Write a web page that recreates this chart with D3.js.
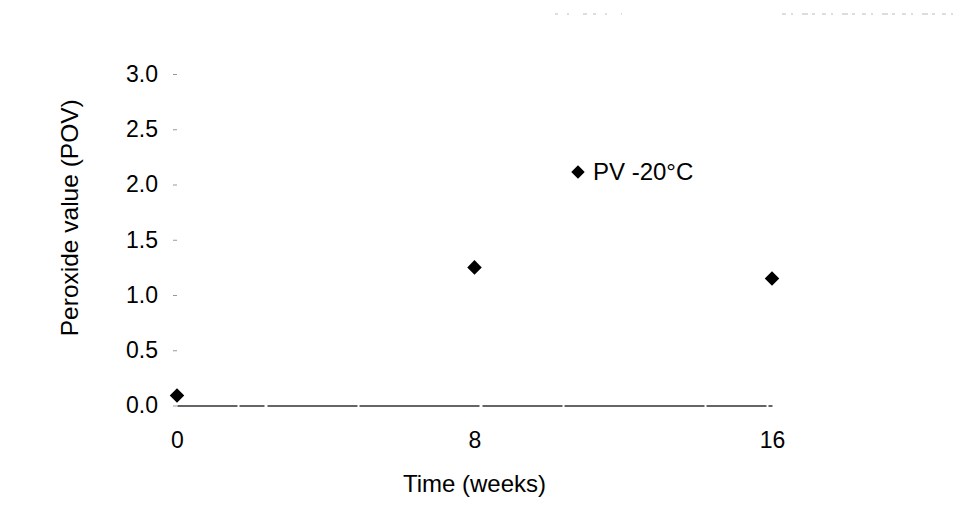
<!DOCTYPE html>
<html>
<head>
<meta charset="utf-8">
<script src="https://cdn.jsdelivr.net/npm/d3@7"></script>
<style>
  html, body { margin: 0; padding: 0; background: #fff; }
  svg { display: block; }
  text { font-family: "Liberation Sans", Arial, sans-serif; fill: #000; }
</style>
</head>
<body>
<svg id="chart" width="953" height="528"></svg>
<script>
// Peroxide value of samples stored at -20°C over time
const weeks = [0, 8, 16];
const peroxideValues = [0.09, 1.25, 1.15];
const xTickValues = [0, 8, 16];
const yTickValues = [0, 0.5, 1.0, 1.5, 2.0, 2.5, 3.0];
const seriesName = "PV -20°C";
const xTitle = "Time (weeks)";
const yTitle = "Peroxide value (POV)";

const svg = d3.select("#chart");

const x = d3.scaleLinear().domain([0, 16]).range([177, 772]);
const y = d3.scaleLinear().domain([0, 3]).range([405.5, 74]);

// faint ruled line along the top edge of the page
const rule = svg.append("g").attr("stroke", "#bbb").attr("stroke-width", 1.2);
rule.append("line").attr("x1", 555).attr("x2", 622).attr("y1", 14).attr("y2", 14)
  .attr("stroke-dasharray", "3 9 2 14 4 6");
rule.append("line").attr("x1", 782).attr("x2", 953).attr("y1", 14).attr("y2", 14)
  .attr("stroke-dasharray", "4 5 2 9 6 4 3 7");

// y axis: tick marks and labels, no spine
const yAxis = d3.axisLeft(y)
  .tickValues(yTickValues)
  .tickFormat(d3.format(".1f"))
  .tickSize(4)
  .tickPadding(15);

const gy = svg.append("g")
  .attr("transform", `translate(${x(0)},0)`)
  .call(yAxis);
gy.select(".domain").remove();
gy.selectAll(".tick line").attr("stroke", "#999").attr("stroke-width", 1);
gy.selectAll(".tick text")
  .style("font-size", "23px")
  .attr("font-family", "Liberation Sans, Arial, sans-serif")
  .attr("fill", "#000");

// x axis: baseline at zero, labels below, no tick marks
const xAxis = d3.axisBottom(x)
  .tickValues(xTickValues)
  .tickFormat(d3.format("d"))
  .tickSize(0)
  .tickPadding(26);

const gx = svg.append("g")
  .attr("transform", `translate(0,${y(0)})`)
  .call(xAxis);
gx.select(".domain")
  .attr("stroke", "#333")
  .attr("stroke-width", 1.3)
  .attr("stroke-dasharray", "60 2 25 3 90 2 120 3 80 2 140 2");
gx.selectAll(".tick text")
  .style("font-size", "23px")
  .attr("font-family", "Liberation Sans, Arial, sans-serif")
  .attr("fill", "#000");

// axis titles
svg.append("text")
  .attr("x", x(8))
  .attr("y", 492)
  .attr("text-anchor", "middle")
  .style("font-size", "24px")
  .text(xTitle);

svg.append("text")
  .attr("transform", `translate(78,${(y(0) + y(3)) / 2 - 22}) rotate(-90)`)
  .attr("text-anchor", "middle")
  .style("font-size", "24.5px")
  .text(yTitle);

// data markers
const diamond = d3.symbol().type(d3.symbolDiamond2).size(135);
svg.append("g")
  .selectAll("path")
  .data(weeks.map((w, i) => ({ w, v: peroxideValues[i] })))
  .join("path")
  .attr("d", diamond)
  .attr("transform", d => `translate(${x(d.w)},${y(d.v)})`)
  .attr("fill", "#000");

// legend
const legend = svg.append("g").attr("transform", "translate(578,172)");
legend.append("path")
  .attr("d", d3.symbol().type(d3.symbolDiamond2).size(115))
  .attr("fill", "#000");
legend.append("text")
  .attr("x", 15)
  .attr("y", 8)
  .style("font-size", "24px")
  .text(seriesName);
</script>
</body>
</html>
